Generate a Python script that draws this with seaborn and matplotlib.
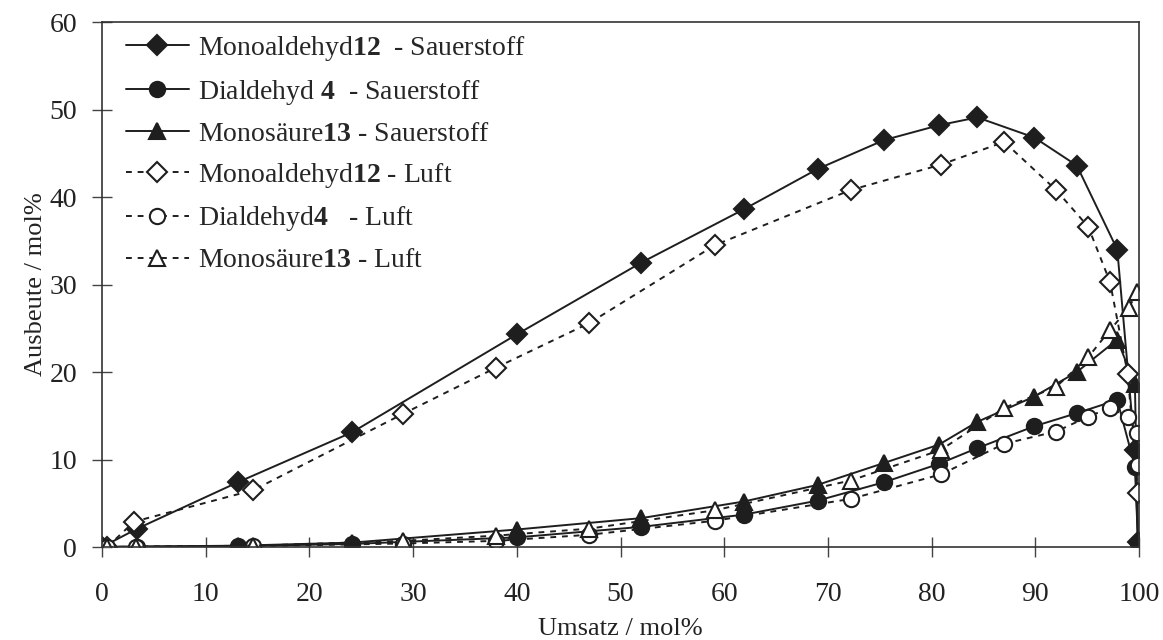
import matplotlib
matplotlib.use("Agg")
import matplotlib.pyplot as plt
import seaborn as sns

# Umsatz (x) und Ausbeute (y) je Produkt und Oxidationsmittel
umsatz_o2 = [0, 3.4, 13.1, 24.1, 40.0, 52.0, 61.9, 69.0, 75.4, 80.7, 84.4, 89.9, 94.0, 97.9, 99.6, 99.9]
mono12_o2 = [0, 2.1, 7.4, 13.1, 24.3, 32.5, 38.6, 43.2, 46.5, 48.2, 49.1, 46.8, 43.6, 34.0, 11.1, 0.6]
dial4_o2 = [0, 0.05, 0.1, 0.35, 1.1, 2.3, 3.7, 5.3, 7.4, 9.5, 11.3, 13.8, 15.3, 16.8, 9.2, 0.5]
saeure13_o2 = [0, 0.05, 0.15, 0.5, 2.0, 3.3, 5.2, 7.1, 9.6, 11.7, 14.3, 17.2, 20.0, 23.7, 18.6, 0.5]

umsatz_mono12_luft = [0.5, 3.1, 14.6, 29.0, 38.0, 47.0, 59.1, 72.2, 80.9, 87.0, 92.0, 95.1, 97.2, 98.9, 99.9]
mono12_luft = [0, 2.9, 6.5, 15.2, 20.5, 25.6, 34.5, 40.8, 43.7, 46.3, 40.8, 36.6, 30.3, 19.8, 6.2]
umsatz_dial4_luft = [0.5, 3.3, 14.6, 29.0, 38.0, 47.0, 59.1, 72.2, 80.9, 87.0, 92.0, 95.1, 97.2, 98.9, 99.8, 99.9]
dial4_luft = [0, 0, 0.1, 0.4, 0.7, 1.4, 3.0, 5.5, 8.3, 11.8, 13.2, 14.9, 15.9, 14.9, 13.0, 9.4]
umsatz_saeure13_luft = [0.5, 3.3, 14.6, 29.0, 38.0, 47.0, 59.1, 72.2, 80.9, 87.0, 92.0, 95.1, 97.2, 99.0, 99.8]
saeure13_luft = [0, 0.05, 0.15, 0.7, 1.3, 2.1, 4.2, 7.6, 11.1, 15.9, 18.3, 21.7, 24.8, 27.3, 29.1]

labels = [
    r"Monoaldehyd$\mathbf{12}$  - Sauerstoff",
    r"Dialdehyd $\mathbf{4}$  - Sauerstoff",
    r"Monosäure$\mathbf{13}$ - Sauerstoff",
    r"Monoaldehyd$\mathbf{12}$ - Luft",
    r"Dialdehyd$\mathbf{4}$   - Luft",
    r"Monosäure$\mathbf{13}$ - Luft",
]
x_ticks = [0, 10, 20, 30, 40, 50, 60, 70, 80, 90, 100]
y_ticks = [0, 10, 20, 30, 40, 50, 60]

sns.set_theme(style="ticks")
plt.rcParams["font.family"] = ["Liberation Serif", "DejaVu Serif"]
plt.rcParams["mathtext.fontset"] = "custom"
plt.rcParams["mathtext.rm"] = "Liberation Serif"
plt.rcParams["mathtext.bf"] = "Liberation Serif:bold"

fig = plt.figure(figsize=(11.63, 6.40), dpi=100)
ax = fig.add_axes([0.0877, 0.1453, 0.8917, 0.8203])

ink = "#1e1e1e"
series = [
    (umsatz_o2, mono12_o2, "D", ink, "-", labels[0], 10),
    (umsatz_o2, dial4_o2, "o", ink, "-", labels[1], 11),
    (umsatz_o2, saeure13_o2, "^", ink, "-", labels[2], 11.5),
    (umsatz_mono12_luft, mono12_luft, "D", "white", (0, (3, 3)), labels[3], 10),
    (umsatz_dial4_luft, dial4_luft, "o", "white", (0, (3, 3)), labels[4], 11),
    (umsatz_saeure13_luft, saeure13_luft, "^", "white", (0, (3, 3)), labels[5], 11.5),
]
for xs, ys, mk, face, ls, lab, ms in series:
    sns.lineplot(x=xs, y=ys, ax=ax, sort=False, estimator=None,
                 color=ink, linewidth=1.4, linestyle=ls,
                 marker=mk, markersize=ms, markerfacecolor=face,
                 markeredgecolor=ink, markeredgewidth=1.5, label=lab)

ax.set_xlim(0, 100)
ax.set_ylim(0, 60)
ax.set_xticks(x_ticks)
ax.set_yticks(y_ticks)
ax.tick_params(direction="inout", length=14, width=1.0, color="#444444",
               labelsize=20, colors="#222222")
ax.tick_params(axis="x", pad=18)
ax.tick_params(axis="y", pad=11)
for sp in ax.spines.values():
    sp.set_color("#333333")
    sp.set_linewidth(1.2)
ax.set_xlabel("Umsatz / mol%", fontsize=19, color="#222222", labelpad=8)
ax.set_ylabel("Ausbeute / mol%", fontsize=19, color="#222222", labelpad=2)

ax.legend(loc="upper left", bbox_to_anchor=(0.012, 0.998), frameon=False,
          fontsize=20, handlelength=2.3, handletextpad=0.3,
          labelspacing=0.52, borderaxespad=0)

fig.savefig("out.png", dpi=100)
